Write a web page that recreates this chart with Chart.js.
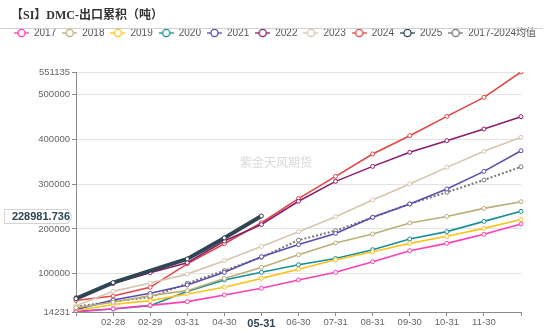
<!DOCTYPE html>
<html>
<head>
<meta charset="utf-8">
<script src="https://cdn.jsdelivr.net/npm/chart.js@4/dist/chart.umd.min.js"></script>
<style>
  html, body { margin: 0; padding: 0; background: #fff; }
  #wrap { width: 550px; height: 331px; position: relative; }
</style>
</head>
<body>
<div id="wrap"><canvas id="chartDmc"></canvas></div>
<script>
// ── Data ─────────────────────────────────────
const labels = ['01-31', '02-28', '02-29', '03-31', '04-30', '05-31', '06-30',
                '07-31', '08-31', '09-30', '10-31', '11-30', '12-31'];
const yTicks = [14231, 100000, 200000, 300000, 400000, 500000, 551135];

const s2017 = [14231, 21500, 29000, 37400, 52300, 67200, 86000, 103000, 126800, 151400, 167800, 188000, 211000];
const s2018 = [24000, 36000, 50800, 62000, 89000, 114000, 142500, 168700, 188800, 213400, 228000, 246000, 261000];
const s2019 = [17000, 31000, 39600, 54600, 69400, 89500, 110000, 131000, 149200, 167800, 183500, 201300, 221000];
const s2020 = [16000, 21000, 28400, 60400, 86000, 103000, 120000, 134000, 153700, 177600, 194000, 217000, 239400];
const s2021 = [19500, 41000, 56000, 74700, 103000, 138000, 165000, 190000, 226000, 256000, 289500, 328800, 375000];
const s2022 = [46000, 78000, 102000, 124600, 173000, 210000, 262000, 306500, 340000, 371400, 397500, 423700, 451200];
const s2023 = [28000, 60400, 79000, 99000, 129000, 161000, 194000, 227500, 264900, 300600, 337800, 373600, 405000];
const s2024 = [40000, 50000, 69400, 122000, 167000, 214000, 268000, 317600, 367800, 408700, 451900, 494400, 551135];
const s2025 = [44000, 80000, null, 133000, 180000, 228981.736, null, null, null, null, null, null, null];
const sAvg  = [26000, 38000, 47000, 78300, 106700, 136500, 175000, 196000, 226000, 256000, 281900, 309600, 339000];

const latestValue = 228981.736;
const focusLabel  = '05-31';

// ── Style ────────────────────────────────────
const COLORS = {
  '2017': '#ff3fb8', '2018': '#bcae78', '2019': '#ffc21a', '2020': '#15909a',
  '2021': '#5b4cb0', '2022': '#8c1d6e', '2023': '#d6c6b0', '2024': '#e04646',
  '2025': '#2f4554', '2017-2024均值': '#777777',
};
const GRID = '#e3e3e3';
const AXIS = '#8a8a8a';

function mkSeries(name, data, extra) {
  return Object.assign({
    label:                name,
    data,
    borderColor:          COLORS[name],
    backgroundColor:      COLORS[name],
    borderWidth:          1.6,
    pointRadius:          2,
    pointBorderWidth:     1,
    pointBackgroundColor: '#fff',
    pointBorderColor:     COLORS[name],
    tension:              0,
    fill:                 false,
    yAxisID:              'y',
  }, extra || {});
}

const datasets = [
  mkSeries('2017', s2017),
  mkSeries('2018', s2018),
  mkSeries('2019', s2019),
  mkSeries('2020', s2020),
  mkSeries('2021', s2021),
  mkSeries('2022', s2022),
  mkSeries('2023', s2023),
  mkSeries('2024', s2024),
  mkSeries('2025', s2025, { borderWidth: 4, spanGaps: true, order: -1 }),
  mkSeries('2017-2024均值', sAvg, { borderDash: [2, 2], borderWidth: 2 }),
];

// legend icons: -O- (line through a hollow circle)
function legendIcon(color) {
  const c = document.createElement('canvas');
  c.width = 15; c.height = 10;
  const g = c.getContext('2d');
  g.strokeStyle = color; g.lineWidth = 1.3;
  g.beginPath(); g.moveTo(0, 5); g.lineTo(15, 5); g.stroke();
  g.beginPath(); g.arc(7.5, 5, 3.6, 0, Math.PI * 2);
  g.fillStyle = '#fff'; g.fill(); g.stroke();
  return c;
}

// title, separator, watermark, axis pointer label
const decor = {
  id: 'decor',
  beforeInit(chart) {
    const fit = chart.legend.fit;
    chart.legend.fit = function () { fit.call(this); this.height = 50; };
  },
  beforeDatasetsDraw(chart) {
    const { ctx } = chart;
    ctx.save();
    ctx.fillStyle = '#d9d9d9';
    ctx.font = '12px "Noto Sans CJK SC"';
    ctx.textBaseline = 'middle';
    ctx.fillText('紫金天风期货', 240, 162);
    ctx.restore();
  },
  afterDraw(chart) {
    const { ctx, scales: { y } } = chart;
    ctx.save();
    ctx.fillStyle = '#333';
    ctx.font = 'bold 12px "Liberation Serif", "Noto Sans CJK SC"';
    ctx.textBaseline = 'middle';
    ctx.fillText('【SI】DMC-出口累积（吨）', 11, 16);
    ctx.strokeStyle = '#cfcfcf';
    ctx.lineWidth = 1;
    ctx.beginPath(); ctx.moveTo(0, 28.5); ctx.lineTo(543, 28.5); ctx.stroke();

    const py = Math.round(y.getPixelForValue(latestValue)) + 0.5;
    ctx.fillStyle = '#fff';
    ctx.strokeStyle = '#d4d4d4';
    ctx.beginPath();
    ctx.moveTo(4.5, py - 7); ctx.lineTo(68, py - 7); ctx.lineTo(72, py);
    ctx.lineTo(68, py + 7); ctx.lineTo(4.5, py + 7); ctx.closePath();
    ctx.fill(); ctx.stroke();
    ctx.fillStyle = '#2f4554';
    ctx.font = 'bold 11px "Liberation Sans"';
    ctx.textAlign = 'right';
    ctx.fillText(latestValue.toString(), 70, py + 0.5);
    ctx.restore();
  },
};

new Chart(document.getElementById('chartDmc'), {
  type: 'line',
  data: { labels, datasets },
  plugins: [decor],
  options: {
    responsive: true,
    maintainAspectRatio: false,
    animation: false,
    layout: { padding: { top: 22, right: 0, bottom: 0, left: 0 } },
    plugins: {
      tooltip: { enabled: false },
      legend: {
        position: 'top',
        labels: {
          usePointStyle: true,
          pointStyleWidth: 15,
          padding: 6,
          color: '#555',
          font: { size: 10, family: '"Liberation Sans", "Noto Sans CJK SC"' },
          sort: (a, b) => a.datasetIndex - b.datasetIndex,
          generateLabels: chart =>
            Chart.defaults.plugins.legend.labels.generateLabels(chart)
              .map(l => Object.assign(l, { pointStyle: legendIcon(COLORS[l.text]), lineWidth: 0 })),
        },
      },
    },
    scales: {
      x: {
        offset: false,
        border: { color: AXIS },
        grid: { drawOnChartArea: false, drawTicks: true, tickLength: 4, tickColor: AXIS },
        afterFit: s => { s.height = 19; },
        ticks: {
          autoSkip: false,
          maxRotation: 0,
          padding: 1,
          callback: (v, i) => (i === 0 || i === labels.length - 1) ? '' : labels[i],
          color: ctx => labels[ctx.index] === focusLabel ? '#2f4554' : '#666',
          font: ctx => labels[ctx.index] === focusLabel
            ? { size: 11, weight: 'bold', family: '"Liberation Sans"' }
            : { size: 9.5, family: '"Liberation Sans"' },
        },
      },
      y: {
        position: 'left',
        min: yTicks[0],
        max: yTicks[yTicks.length - 1],
        border: { color: AXIS },
        grid: { color: GRID, tickColor: AXIS, tickLength: 4 },
        afterBuildTicks: s => { s.ticks = yTicks.map(v => ({ value: v })); },
        afterFit: s => { s.width = 76; },
        ticks: {
          padding: 2,
          color: '#666',
          font: { size: 9.5, family: '"Liberation Sans"' },
          callback: v => String(v),
        },
      },
      // empty right-hand spacer so the plot stops short of the edge
      yRight: {
        position: 'right',
        min: yTicks[0],
        max: yTicks[yTicks.length - 1],
        border: { display: false },
        grid: { drawOnChartArea: false, drawTicks: false },
        ticks: { display: false },
        afterFit: s => { s.width = 29; },
      },
    },
  },
});
</script>
</body>
</html>
